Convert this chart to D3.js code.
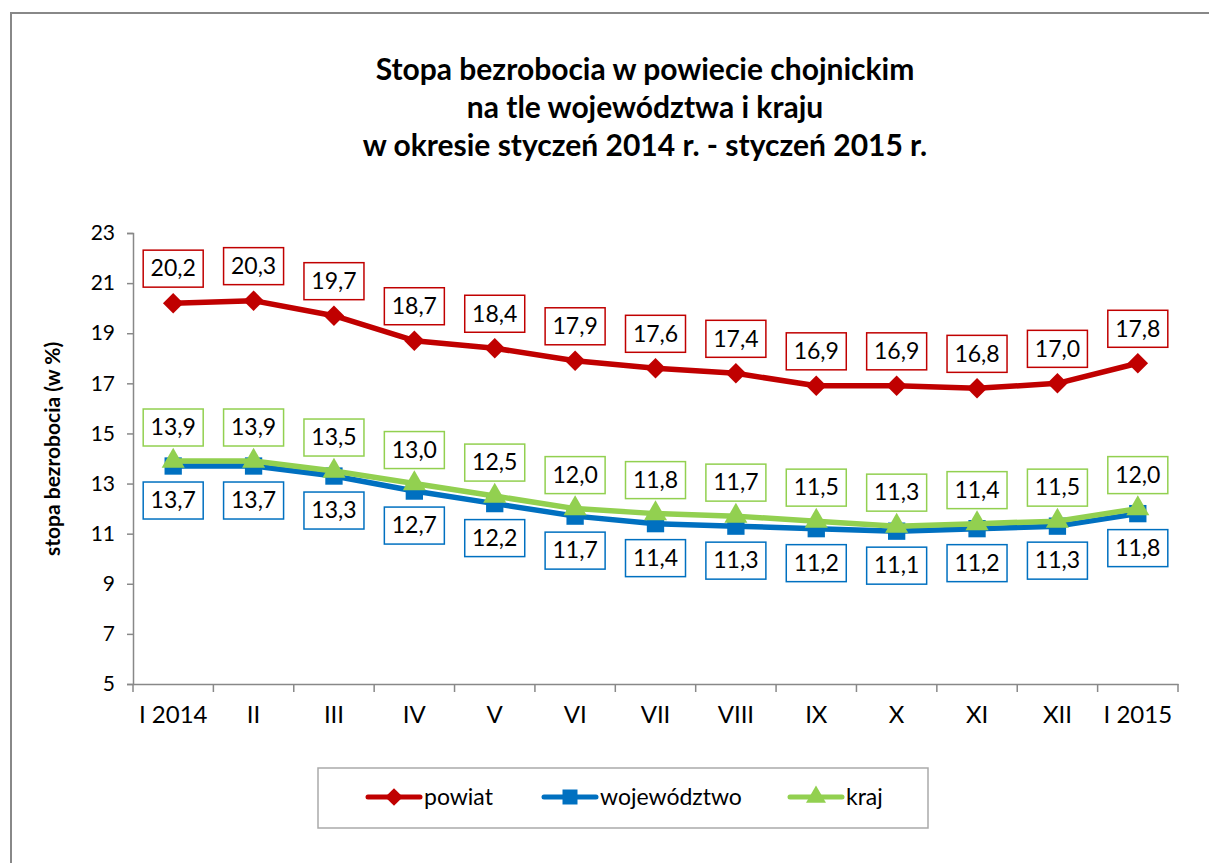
<!DOCTYPE html>
<html lang="pl">
<head>
<meta charset="utf-8">
<title>Stopa bezrobocia</title>
<script src="https://d3js.org/d3.v7.min.js"></script>
<style>
  body { margin: 0; background: #fff; }
  svg { font-family: Lato, "Open Sans", sans-serif; }
</style>
</head>
<body>
<div id="chart"></div>
<script>
// data
var months = ["I 2014","II","III","IV","V","VI","VII","VIII","IX","X","XI","XII","I 2015"];
var powiat = [20.2,20.3,19.7,18.7,18.4,17.9,17.6,17.4,16.9,16.9,16.8,17.0,17.8];
var wojewodztwo = [13.7,13.7,13.3,12.7,12.2,11.7,11.4,11.3,11.2,11.1,11.2,11.3,11.8];
var kraj = [13.9,13.9,13.5,13.0,12.5,12.0,11.8,11.7,11.5,11.3,11.4,11.5,12.0];
var yTicks = [5,7,9,11,13,15,17,19,21,23];
var titleLines = ["Stopa bezrobocia w powiecie chojnickim", "na tle województwa i kraju", "w okresie styczeń 2014 r. - styczeń 2015 r."];

var W = 1209, H = 863;
var svg = d3.select("#chart").append("svg")
  .attr("width", W).attr("height", H);

// outer frame
svg.append("rect")
  .attr("x", 11).attr("y", 13)
  .attr("width", W + 20).attr("height", H + 20)
  .attr("fill", "#fff").attr("stroke", "#888").attr("stroke-width", 2);

// title
svg.append("g").selectAll("text")
  .data(titleLines).enter().append("text")
  .attr("x", 645)
  .attr("y", function(d, i) { return 80 + i * 38; })
  .attr("text-anchor", "middle")
  .attr("font-size", 30).attr("font-weight", "bold")
  .attr("fill", "#000")
  .text(function(d) { return d; });

var plotL = 133, plotR = 1178, plotT = 233, plotB = 684;

var x = d3.scaleBand().domain(months).range([plotL, plotR]);
var y = d3.scaleLinear().domain([5, 23]).range([plotB, plotT]);

// y axis
var yAxis = svg.append("g")
  .attr("transform", "translate(" + plotL + ",0)")
  .call(d3.axisLeft(y).tickValues(yTicks).tickSize(6).tickPadding(12));
yAxis.select(".domain").attr("stroke", "#888").attr("stroke-width", 1.5);
yAxis.selectAll(".tick line").attr("stroke", "#888").attr("stroke-width", 1.5);
yAxis.selectAll(".tick text").attr("font-size", 21).attr("fill", "#000")
  .attr("font-family", "Lato, sans-serif");

// x axis
var xAxis = svg.append("g")
  .attr("transform", "translate(0," + plotB + ")")
  .call(d3.axisBottom(x).tickSize(0).tickPadding(22));
xAxis.select(".domain").attr("stroke", "#888").attr("stroke-width", 1.5);
xAxis.selectAll(".tick text").attr("font-size", 24).attr("fill", "#000")
  .attr("font-family", "Lato, sans-serif");
// ticks on band boundaries
var bounds = months.map(function(d) { return x(d); }).concat([plotR]);
xAxis.selectAll(".bound").data(bounds).enter().append("line")
  .attr("x1", function(d) { return d; }).attr("x2", function(d) { return d; })
  .attr("y1", 0).attr("y2", 8)
  .attr("stroke", "#888").attr("stroke-width", 1.5);

// y axis title
svg.append("text")
  .attr("transform", "translate(60,556) rotate(-90)")
  .attr("text-anchor", "start")
  .attr("font-size", 21).attr("font-weight", "bold")
  .text("stopa bezrobocia (w %)");

var cx = function(i) { return x(months[i]) + x.bandwidth() / 2; };

var series = [
  {name: "powiat", values: powiat, color: "#C00000", marker: d3.symbolSquare, size: 210, rot: 45, label: "above", labelOff: 35},
  {name: "województwo", values: wojewodztwo, color: "#0070C0", marker: d3.symbolSquare, size: 300, rot: 0, label: "below", labelOff: 34},
  {name: "kraj", values: kraj, color: "#92D050", marker: d3.symbolTriangle, size: 230, rot: 0, label: "above", labelOff: 34}
];

var line = d3.line()
  .x(function(d, i) { return cx(i); })
  .y(function(d) { return y(d); });

series.forEach(function(s) {
  svg.append("path")
    .datum(s.values)
    .attr("d", line)
    .attr("fill", "none")
    .attr("stroke", s.color)
    .attr("stroke-width", 5.5)
    .attr("stroke-linejoin", "round");
  svg.append("g").selectAll("path")
    .data(s.values).enter().append("path")
    .attr("transform", function(d, i) {
      return "translate(" + cx(i) + "," + y(d) + ") rotate(" + s.rot + ")";
    })
    .attr("d", d3.symbol().type(s.marker).size(s.size))
    .attr("fill", s.color);
});

// data labels
function fmt(v) { return v.toFixed(1).replace(".", ","); }
series.forEach(function(s) {
  var g = svg.append("g").selectAll("g")
    .data(s.values).enter().append("g")
    .attr("transform", function(d, i) {
      var yy = s.label === "above" ? y(d) - s.labelOff : y(d) + s.labelOff;
      return "translate(" + cx(i) + "," + yy + ")";
    });
  g.append("rect")
    .attr("x", -30).attr("y", -18).attr("width", 60).attr("height", 37)
    .attr("fill", "#fff").attr("stroke", s.color).attr("stroke-width", 1.5);
  g.append("text")
    .attr("text-anchor", "middle").attr("dy", "0.36em")
    .attr("font-size", 23).attr("fill", "#000")
    .text(function(d) { return fmt(d); });
});

// legend
svg.append("rect")
  .attr("x", 318).attr("y", 768).attr("width", 610).attr("height", 60)
  .attr("fill", "#fff").attr("stroke", "#aaa").attr("stroke-width", 1.5);
var legendX = [368, 544, 790];
series.forEach(function(s, i) {
  var g = svg.append("g").attr("transform", "translate(" + legendX[i] + ",797)");
  g.append("line").attr("x1", 0).attr("x2", 52).attr("y1", 0).attr("y2", 0)
    .attr("stroke", s.color).attr("stroke-width", 5).attr("stroke-linecap", "round");
  g.append("path")
    .attr("transform", "translate(26,0) rotate(" + s.rot + ")")
    .attr("d", d3.symbol().type(s.marker).size(s.size * 0.75))
    .attr("fill", s.color);
  g.append("text").attr("x", 56).attr("dy", "0.35em")
    .attr("font-size", 23).attr("fill", "#000").text(s.name);
});
</script>
</body>
</html>
